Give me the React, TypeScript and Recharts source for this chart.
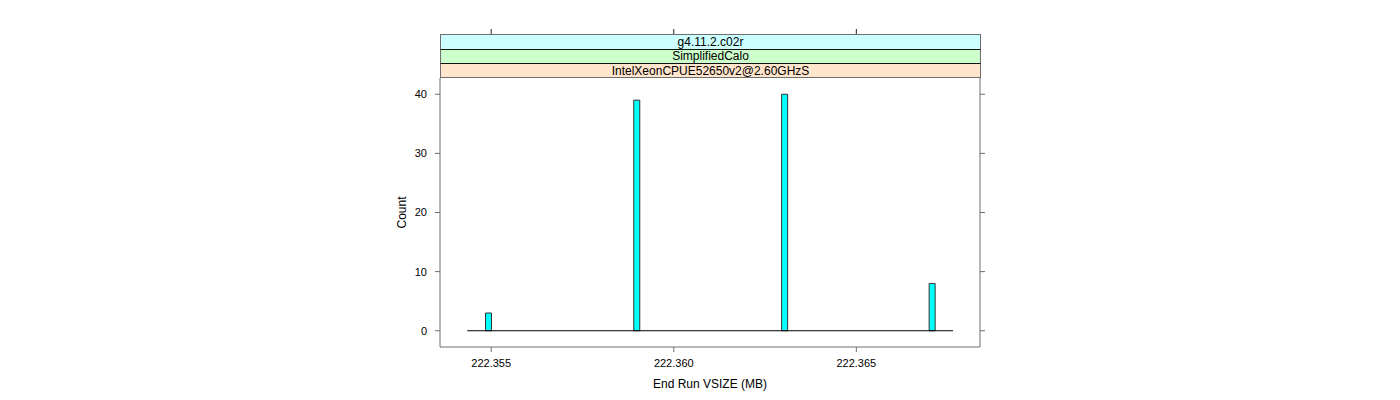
import React from 'react';
import { ComposedChart, Bar, XAxis, YAxis, ReferenceLine, Label } from 'recharts';

// Data
const vsizeValues = [222.35492, 222.35898, 222.36303, 222.36707];
const counts = [3, 39, 40, 8];
const xTicks = [222.355, 222.36, 222.365];
const yTicks = [0, 10, 20, 30, 40];
const xDomain: [number, number] = [222.353598, 222.368387];
const yDomain: [number, number] = [-2.75, 42.75];
const histRange = [222.354346, 222.367648];
const stripLabels = ['g4.11.2.c02r', 'SimplifiedCalo', 'IntelXeonCPUE52650v2@2.60GHzS'];
const stripColors = ['#CCFFFF', '#CCFFCC', '#FFE5CC'];

const data = vsizeValues.map((v, i) => ({ vsize: v, count: counts[i] }));

const FONT = '"Liberation Sans", Arial, Helvetica, sans-serif';
const BOX = '#6e6e6e';

const PLOT_LEFT = 440;
const PLOT_RIGHT = 980;
const PLOT_TOP = 78;
const STRIP_TOP = 34;
const TICK = 5;

const TopTick = (props: any) => {
  const x = props.payload?.coordinate ?? props.x;
  return <line x1={x} x2={x} y1={STRIP_TOP - TICK} y2={STRIP_TOP} stroke="#222" strokeWidth={1} />;
};

const RightTick = (props: any) => {
  const y = props.payload?.coordinate ?? props.y;
  return <line x1={PLOT_RIGHT} x2={PLOT_RIGHT + TICK} y1={y} y2={y} stroke={BOX} strokeWidth={1} />;
};

export default function App() {
  const stripH = (PLOT_TOP - STRIP_TOP) / stripLabels.length;
  return (
    <div style={{ position: 'absolute', left: 0, top: 0, width: 1400, height: 400, background: '#fff' }}>
      <ComposedChart
        width={1400}
        height={400}
        data={data}
        margin={{ top: PLOT_TOP - 1, right: 1400 - PLOT_RIGHT - 1, bottom: 0, left: 397 }}
      >
        <XAxis
          xAxisId="top"
          orientation="top"
          dataKey="vsize"
          type="number"
          domain={xDomain}
          allowDataOverflow
          ticks={xTicks}
          interval={0}
          height={1}
          axisLine={false}
          tickLine={false}
          tick={<TopTick />}
        />
        <XAxis
          xAxisId="bottom"
          dataKey="vsize"
          type="number"
          domain={xDomain}
          allowDataOverflow
          ticks={xTicks}
          interval={0}
          tickFormatter={(v: number) => v.toFixed(3)}
          height={53}
          tickSize={TICK}
          tickMargin={7}
          axisLine={{ stroke: BOX }}
          tickLine={{ stroke: BOX }}
          tick={{ fill: '#000', fontSize: 11, fontFamily: FONT }}
        >
          <Label
            value="End Run VSIZE (MB)"
            position="insideBottom"
            offset={12}
            style={{ fill: '#000', fontSize: 12, fontFamily: FONT }}
          />
        </XAxis>
        <YAxis
          yAxisId="left"
          type="number"
          domain={yDomain}
          allowDataOverflow
          ticks={yTicks}
          interval={0}
          width={43}
          tickSize={TICK}
          tickMargin={8}
          axisLine={{ stroke: BOX }}
          tickLine={{ stroke: BOX }}
          tick={{ fill: '#000', fontSize: 11, fontFamily: FONT }}
        >
          <Label
            value="Count"
            angle={-90}
            position="insideLeft"
            offset={5}
            style={{ fill: '#000', fontSize: 12, fontFamily: FONT, textAnchor: 'middle' }}
          />
        </YAxis>
        <YAxis
          yAxisId="right"
          orientation="right"
          type="number"
          domain={yDomain}
          allowDataOverflow
          ticks={yTicks}
          interval={0}
          width={1}
          tickLine={false}
          tick={<RightTick />}
          axisLine={{ stroke: BOX }}
        />
        <ReferenceLine
          xAxisId="bottom"
          yAxisId="left"
          segment={[
            { x: histRange[0], y: 0 },
            { x: histRange[1], y: 0 },
          ]}
          stroke="#000"
          strokeWidth={1}
        />
        <Bar
          xAxisId="bottom"
          yAxisId="left"
          dataKey="count"
          barSize={6}
          fill="#00FFFF"
          stroke="#333"
          strokeWidth={1}
          isAnimationActive={false}
        />
      </ComposedChart>
      {stripLabels.map((label, i) => (
        <div
          key={label}
          style={{
            position: 'absolute',
            left: PLOT_LEFT,
            top: STRIP_TOP + i * stripH,
            width: PLOT_RIGHT - PLOT_LEFT + 1,
            height: stripH,
            boxSizing: 'border-box',
            background: stripColors[i],
            borderLeft: `1px solid ${BOX}`,
            borderRight: `1px solid ${BOX}`,
            borderTop: i === 0 ? `1px solid ${BOX}` : '1px solid #111',
            borderBottom: i === stripLabels.length - 1 ? `1px solid ${BOX}` : 'none',
            display: 'flex',
            alignItems: 'center',
            justifyContent: 'center',
            fontFamily: FONT,
            fontSize: 12,
            color: '#000',
            lineHeight: 1,
            zIndex: 2,
          }}
        >
          {label}
        </div>
      ))}
    </div>
  );
}
